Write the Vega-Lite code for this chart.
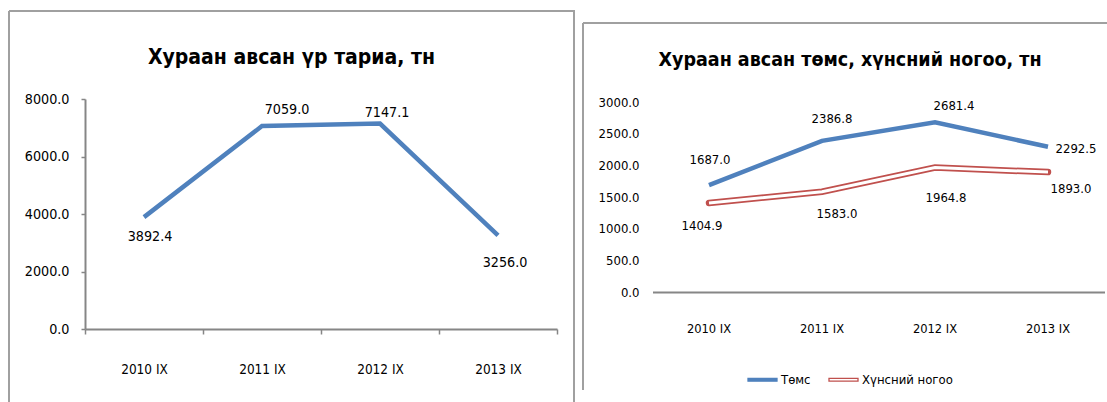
{
  "$schema": "https://vega.github.io/schema/vega-lite/v6.json",
  "background": "white",
  "padding": {"left": 8, "top": 10, "right": 0, "bottom": 0},
  "spacing": 7,
  "center": true,
  "config": {
    "font": "DejaVu Sans Condensed, Roboto Condensed, Roboto, sans-serif",
    "axis": {"labelFont": "DejaVu Sans Condensed, Roboto Condensed, Roboto, sans-serif", "labelColor": "#000000", "grid": false},
    "text": {"font": "DejaVu Sans Condensed, Roboto Condensed, Roboto, sans-serif", "color": "#000000", "align": "center", "baseline": "middle"},
    "title": {"font": "DejaVu Sans Condensed, Roboto Condensed, Roboto, sans-serif", "fontWeight": "bold", "color": "#000000", "anchor": "middle"}
  },
  "datasets": {
    "grain": [
      {"year": "2010 IX", "value": 3892.4},
      {"year": "2011 IX", "value": 7059.0},
      {"year": "2012 IX", "value": 7147.1},
      {"year": "2013 IX", "value": 3256.0}
    ],
    "veg": [
      {"year": "2010 IX", "crop": "Төмс", "value": 1687.0},
      {"year": "2011 IX", "crop": "Төмс", "value": 2386.8},
      {"year": "2012 IX", "crop": "Төмс", "value": 2681.4},
      {"year": "2013 IX", "crop": "Төмс", "value": 2292.5},
      {"year": "2010 IX", "crop": "Хүнсний ногоо", "value": 1404.9},
      {"year": "2011 IX", "crop": "Хүнсний ногоо", "value": 1583.0},
      {"year": "2012 IX", "crop": "Хүнсний ногоо", "value": 1964.8},
      {"year": "2013 IX", "crop": "Хүнсний ногоо", "value": 1893.0}
    ]
  },
  "hconcat": [
    {
      "width": 565,
      "height": 391,
      "view": {"stroke": "#a0a0a0", "strokeWidth": 2, "strokeDash": [956, 565, 391, 0]},
      "title": {"text": "Хураан авсан үр тариа, тн", "fontSize": 21, "offset": -57},
      "data": {"name": "grain"},
      "encoding": {
        "x": {
          "field": "year", "type": "nominal", "sort": null,
          "scale": {"type": "band", "range": [76, 548], "paddingInner": 0, "paddingOuter": 0},
          "axis": {
            "title": null, "tickBand": "extent", "tickSize": 5, "tickColor": "#868686", "tickWidth": 1.5,
            "domainColor": "#868686", "domainWidth": 2, "labelAngle": 0, "labelFontSize": 13.5,
            "labelBaseline": "middle", "labelPadding": 35, "offset": -73
          }
        },
        "y": {
          "field": "value", "type": "quantitative",
          "scale": {"domain": [0, 8000], "range": [318, 88], "nice": false},
          "axis": {
            "title": null, "values": [0, 2000, 4000, 6000, 8000], "format": ".1f",
            "domainColor": "#868686", "domainWidth": 2, "tickSize": 4, "tickColor": "#868686", "tickWidth": 1.5,
            "labelFontSize": 14.2, "labelPadding": 12, "offset": -76
          }
        }
      },
      "layer": [
        {"mark": {"type": "line", "color": "#4F81BD", "strokeWidth": 4.5}},
        {
          "transform": [{"filter": "datum.year === '2010 IX'"}],
          "mark": {"type": "text", "fontSize": 14.2, "dx": 6, "dy": 20},
          "encoding": {"text": {"field": "value", "type": "quantitative", "format": ".1f"}}
        },
        {
          "transform": [{"filter": "datum.year === '2011 IX'"}],
          "mark": {"type": "text", "fontSize": 14.2, "dx": 25, "dy": -16},
          "encoding": {"text": {"field": "value", "type": "quantitative", "format": ".1f"}}
        },
        {
          "transform": [{"filter": "datum.year === '2012 IX'"}],
          "mark": {"type": "text", "fontSize": 14.2, "dx": 7, "dy": -11},
          "encoding": {"text": {"field": "value", "type": "quantitative", "format": ".1f"}}
        },
        {
          "transform": [{"filter": "datum.year === '2013 IX'"}],
          "mark": {"type": "text", "fontSize": 14.2, "dx": 7, "dy": 28},
          "encoding": {"text": {"field": "value", "type": "quantitative", "format": ".1f"}}
        }
      ]
    },
    {
      "width": 526,
      "height": 367,
      "view": {"stroke": "#a0a0a0", "strokeWidth": 2, "strokeDash": [526, 893, 367, 0]},
      "title": {"text": "Хураан авсан төмс, хүнсний ногоо, тн", "fontSize": 19.5, "offset": -47, "dx": 4},
      "data": {"name": "veg"},
      "encoding": {
        "x": {
          "field": "year", "type": "nominal", "sort": null,
          "scale": {"type": "band", "range": [69.5, 521.5], "paddingInner": 0, "paddingOuter": 0},
          "axis": {
            "title": null, "ticks": false, "domainColor": "#868686", "domainWidth": 2,
            "labelAngle": 0, "labelFontSize": 12.8, "labelBaseline": "middle", "labelPadding": 36, "offset": -98
          }
        },
        "y": {
          "field": "value", "type": "quantitative",
          "scale": {"domain": [0, 3000], "range": [269, 79], "nice": false},
          "axis": {
            "title": null, "values": [0, 500, 1000, 1500, 2000, 2500, 3000], "format": ".1f",
            "domain": false, "ticks": false, "labelFontSize": 13, "labelPadding": 13.5, "offset": -69.5
          }
        },
        "color": {
          "field": "crop", "type": "nominal",
          "scale": {"domain": ["Төмс", "Хүнсний ногоо"], "range": ["#4F81BD", "#C0504D"]},
          "legend": {
            "orient": "none", "legendX": 738, "legendY": 353, "direction": "horizontal", "title": null,
            "symbolType": "M-1,-0.1H1V0.1H-1Z", "symbolSize": 841, "symbolStrokeWidth": 1.3,
            "labelFont": "DejaVu Sans Condensed, Roboto Condensed, Roboto, sans-serif", "labelFontSize": 13, "labelColor": "#000000",
            "labelOffset": 3, "columnPadding": 15,
            "encode": {
              "symbols": {
                "update": {
                  "fill": {"signal": "datum.value === 'Төмс' ? '#4F81BD' : '#ffffff'"},
                  "fillOpacity": {"value": 1},
                  "strokeWidth": {"value": 1.3}
                }
              }
            }
          }
        }
      },
      "layer": [
        {
          "transform": [{"filter": "datum.crop === 'Төмс'"}],
          "mark": {"type": "line", "strokeWidth": 4.5}
        },
        {
          "transform": [{"filter": "datum.crop === 'Хүнсний ногоо'"}],
          "mark": {"type": "line", "strokeWidth": 6.5, "strokeCap": "round"}
        },
        {
          "transform": [{"filter": "datum.crop === 'Хүнсний ногоо'"}],
          "mark": {"type": "line", "color": "#ffffff", "strokeWidth": 3},
          "encoding": {"color": {"value": "#ffffff"}}
        },
        {
          "transform": [{"filter": "datum.crop === 'Төмс' && datum.year === '2010 IX'"}],
          "mark": {"type": "text", "fontSize": 13, "dx": 1, "dy": -25},
          "encoding": {"text": {"field": "value", "type": "quantitative", "format": ".1f"}, "color": {"value": "#000000"}}
        },
        {
          "transform": [{"filter": "datum.crop === 'Төмс' && datum.year === '2011 IX'"}],
          "mark": {"type": "text", "fontSize": 13, "dx": 10, "dy": -22},
          "encoding": {"text": {"field": "value", "type": "quantitative", "format": ".1f"}, "color": {"value": "#000000"}}
        },
        {
          "transform": [{"filter": "datum.crop === 'Төмс' && datum.year === '2012 IX'"}],
          "mark": {"type": "text", "fontSize": 13, "dx": 19, "dy": -16},
          "encoding": {"text": {"field": "value", "type": "quantitative", "format": ".1f"}, "color": {"value": "#000000"}}
        },
        {
          "transform": [{"filter": "datum.crop === 'Төмс' && datum.year === '2013 IX'"}],
          "mark": {"type": "text", "fontSize": 13, "dx": 28, "dy": 2},
          "encoding": {"text": {"field": "value", "type": "quantitative", "format": ".1f"}, "color": {"value": "#000000"}}
        },
        {
          "transform": [{"filter": "datum.crop === 'Хүнсний ногоо' && datum.year === '2010 IX'"}],
          "mark": {"type": "text", "fontSize": 13, "dx": -7, "dy": 23},
          "encoding": {"text": {"field": "value", "type": "quantitative", "format": ".1f"}, "color": {"value": "#000000"}}
        },
        {
          "transform": [{"filter": "datum.crop === 'Хүнсний ногоо' && datum.year === '2011 IX'"}],
          "mark": {"type": "text", "fontSize": 13, "dx": 15, "dy": 22},
          "encoding": {"text": {"field": "value", "type": "quantitative", "format": ".1f"}, "color": {"value": "#000000"}}
        },
        {
          "transform": [{"filter": "datum.crop === 'Хүнсний ногоо' && datum.year === '2012 IX'"}],
          "mark": {"type": "text", "fontSize": 13, "dx": 11, "dy": 30},
          "encoding": {"text": {"field": "value", "type": "quantitative", "format": ".1f"}, "color": {"value": "#000000"}}
        },
        {
          "transform": [{"filter": "datum.crop === 'Хүнсний ногоо' && datum.year === '2013 IX'"}],
          "mark": {"type": "text", "fontSize": 13, "dx": 23, "dy": 17},
          "encoding": {"text": {"field": "value", "type": "quantitative", "format": ".1f"}, "color": {"value": "#000000"}}
        }
      ]
    }
  ]
}
